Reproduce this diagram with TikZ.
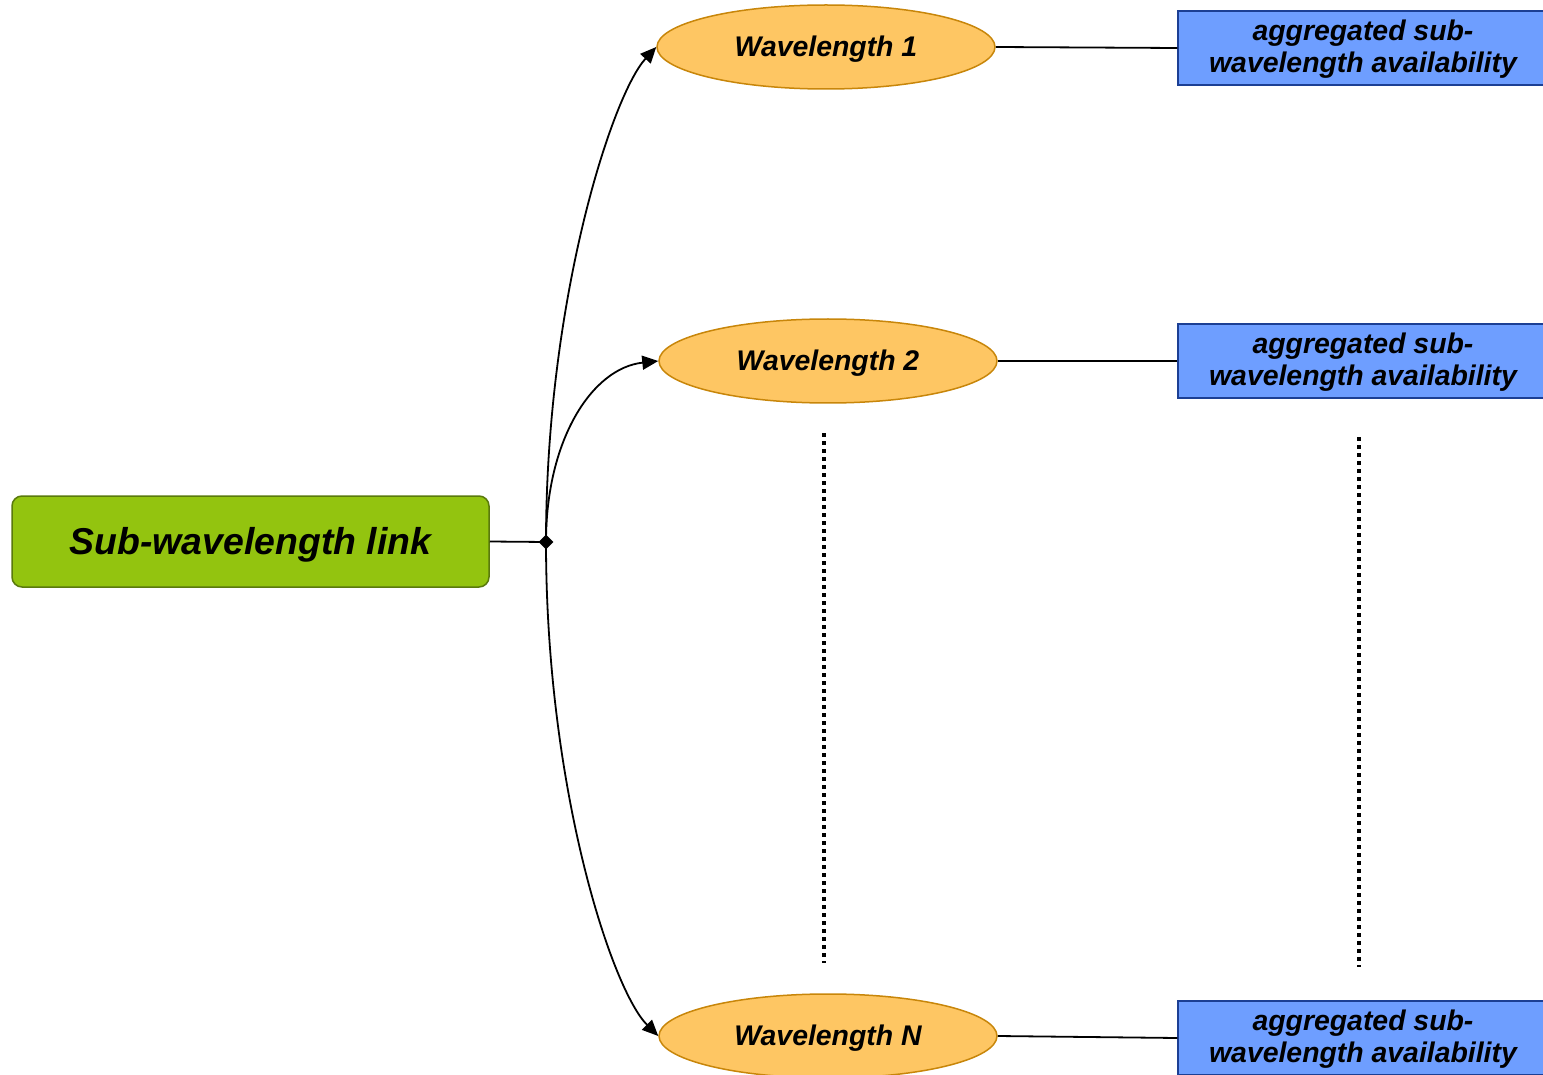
\documentclass[tikz,border=0pt]{standalone}
\usepackage{fontspec}
\setmainfont{Liberation Sans}
\usetikzlibrary{shapes.geometric,arrows.meta}
\definecolor{gfill}{HTML}{93C40F}
\definecolor{gdraw}{HTML}{5A7A0C}
\definecolor{ofill}{HTML}{FEC663}
\definecolor{odraw}{HTML}{C8860A}
\definecolor{bfill}{HTML}{6E9EFF}
\definecolor{bdraw}{HTML}{1C3F94}
\newcommand{\lowtext}[2]{\raisebox{-#1}[\height][\depth]{#2}}
\newcommand{\twolines}[2]{\raisebox{-1.2pt}[\height][\depth]{\begin{tabular}{@{}c@{}}#1\\#2\end{tabular}}}
\tikzset{
  linkbox/.style={draw=gdraw, fill=gfill, line width=0.75pt, rounded corners=5pt,
    minimum width=238.5pt, minimum height=45.5pt, inner sep=0pt,
    font=\fontsize{18.7pt}{22pt}\selectfont\bfseries\itshape},
  wavebox/.style={ellipse, draw=odraw, fill=ofill, line width=0.75pt,
    minimum width=169pt, minimum height=42pt, inner sep=0pt,
    font=\fontsize{14.2pt}{16pt}\selectfont\bfseries\itshape},
  aggbox/.style={draw=bdraw, fill=bfill, line width=0.75pt,
    minimum width=185pt, minimum height=37pt, inner sep=0pt,
    font=\fontsize{14.2pt}{16pt}\selectfont\bfseries\itshape},
  conn/.style={line width=0.9pt, draw=black},
  arr/.style={conn, -{Triangle[length=8pt,width=7pt]}},
  dotline/.style={line width=1.8pt, dash pattern=on 2pt off 2pt},
  junction/.style={diamond, fill=black, minimum size=7.5pt, inner sep=0pt}
}
\begin{document}
\begin{tikzpicture}[x=0.5pt,y=-0.5pt]
\clip (0,0) rectangle (1543,1075);
\fill[white] (0,0) rectangle (1543,1075);
\node[linkbox] (link) at (250.5,541.5) {\lowtext{1.6pt}{Sub-wavelength link}};
\node[wavebox] (w1) at (826,47) {\lowtext{1.1pt}{Wavelength 1}};
\node[wavebox] (w2) at (828,361) {\lowtext{1.1pt}{Wavelength 2}};
\node[wavebox] (wn) at (828,1036) {\lowtext{1.1pt}{Wavelength N}};
\node[aggbox] (a1) at (1363,48) {\twolines{aggregated sub-}{wavelength availability}};
\node[aggbox] (a2) at (1363,361) {\twolines{aggregated sub-}{wavelength availability}};
\node[aggbox] (an) at (1363,1038) {\twolines{aggregated sub-}{wavelength availability}};
\node[junction] (j) at (546,542) {};
\draw[conn] (link.east) -- (j.center);
\draw[arr] (j.center) .. controls (546,300) and (612,95) .. (w1.west);
\draw[arr] (j.center) .. controls (546,440) and (592,368) .. (w2.west);
\draw[arr] (j.center) .. controls (546,790) and (612,990) .. (wn.west);
\draw[conn] (w1.east) -- (a1.west);
\draw[conn] (w2.east) -- (a2.west);
\draw[conn] (wn.east) -- (an.west);
\coordinate (d1a) at (824,433);
\coordinate (d1b) at (824,963);
\coordinate (d2a) at (1359,437);
\coordinate (d2b) at (1359,967);
\draw[dotline] (d1a) -- (d1b);
\draw[dotline] (d2a) -- (d2b);
\end{tikzpicture}
\end{document}
